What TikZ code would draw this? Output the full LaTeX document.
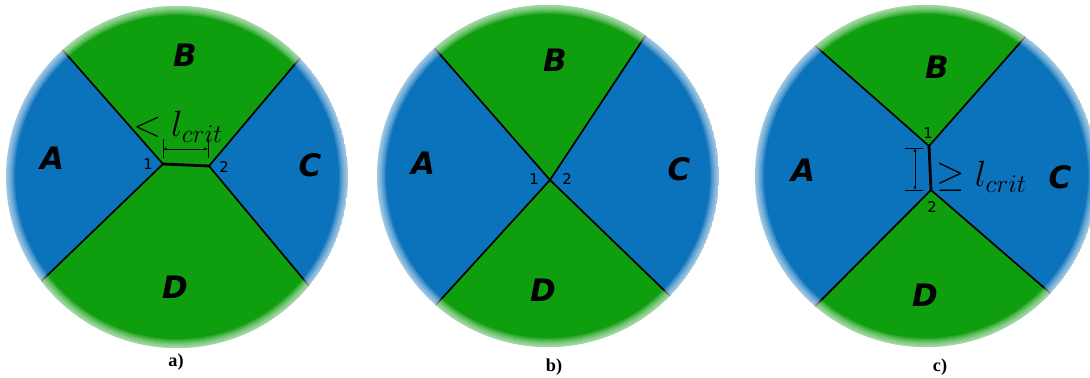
\documentclass[tikz,border=0pt]{standalone}
\usepackage{fix-cm}
\usepackage{fontspec}
\setmainfont{Liberation Serif}
\newfontfamily\grainfont{DejaVu Sans Bold Oblique}
\newfontfamily\vertexfont{DejaVu Sans}
\usetikzlibrary{arrows.meta,calc}
\definecolor{grn}{HTML}{0E9E0E}
\definecolor{blu}{HTML}{0B72BC}

\begin{document}
\begin{tikzpicture}[x=0.25mm,y=0.25mm,>={Latex[length=2.5pt,width=2.2pt]},
  grain/.style={font=\grainfont\fontsize{22}{22}\selectfont},
  vtx/.style={font=\vertexfont\fontsize{10.5}{11}\selectfont,inner sep=1pt},
  crit/.style={font=\fontsize{26}{28}\selectfont,inner sep=0pt},
  edge/.style={line width=1.2pt},
  junction/.style={line width=2pt},
  dim/.style={line width=0.5pt},
  caption/.style={font=\bfseries\fontsize{13}{13}\selectfont}]
  \useasboundingbox (0,0) rectangle (1090,377);

  % a) short junction, horizontal
  \coordinate (ao) at (177,200);
  \coordinate (a1) at (163,213);
  \coordinate (a2) at (209,211);
  \coordinate (atl) at ($(ao)+(132:171)$);
  \coordinate (atr) at ($(ao)+(44:171)$);
  \coordinate (abl) at ($(ao)+(217.5:171)$);
  \coordinate (abr) at ($(ao)+(320.5:171)$);
  \begin{scope}
    \clip (ao) circle[radius=171];
    \fill[blu] (ao) circle[radius=171];
    \fill[grn] (atl) -- (a1) -- (a2) -- (atr) -- ++(0,200)
      -- ($(atl)+(0,200)$) -- cycle;
    \fill[grn] (abl) -- (a1) -- (a2) -- (abr) -- ++(0,-200)
      -- ($(abl)+(0,-200)$) -- cycle;
  \end{scope}
  \draw[edge] (atl) -- (a1) -- (abl);
  \draw[edge] (atr) -- (a2) -- (abr);
  \draw[junction] (a1) -- (a2);
  \foreach \k in {1,...,9}
    \draw[white,opacity=0.1,line width=\k*1.42pt] (ao) circle[radius=171];

  \node[grain] (aA) at (52,219) {A};
  \node[grain] (aB) at (185,322) {B};
  \node[grain] (aC) at (310,212) {C};
  \node[grain] (aD) at (175,90) {D};
  \node[vtx] (a1l) at (148,213) {1};
  \node[vtx] (a2l) at (224,210) {2};
  \coordinate (ad1) at (163,228);
  \coordinate (ad2) at (208,228);
  \draw[dim,<->] (ad1) -- (ad2);
  \draw[dim] ($(ad1)+(0,10)$) -- ($(ad1)+(0,-9)$);
  \draw[dim] ($(ad2)+(0,10)$) -- ($(ad2)+(0,-9)$);
  \node[crit,anchor=west] (acrit) at (133,250) {$<l_{crit}$};
  \node[caption] (capa) at (176,15) {a)};

  % b) four-fold junction
  \coordinate (bo) at (548,201);
  \coordinate (b0) at (550,197);
  \coordinate (btl) at ($(bo)+(131.6:171)$);
  \coordinate (btr) at ($(bo)+(55.2:171)$);
  \coordinate (bbl) at ($(bo)+(229:171)$);
  \coordinate (bbr) at ($(bo)+(315.5:171)$);
  \begin{scope}
    \clip (bo) circle[radius=171];
    \fill[blu] (bo) circle[radius=171];
    \fill[grn] (btl) -- (b0) -- (btr) -- ++(0,200)
      -- ($(btl)+(0,200)$) -- cycle;
    \fill[grn] (bbl) -- (b0) -- (bbr) -- ++(0,-200)
      -- ($(bbl)+(0,-200)$) -- cycle;
  \end{scope}
  \draw[edge] (btl) -- (b0) -- (bbr);
  \draw[edge] (btr) -- (b0) -- (bbl);
  \foreach \k in {1,...,9}
    \draw[white,opacity=0.1,line width=\k*1.42pt] (bo) circle[radius=171];

  \node[grain] (bA) at (423,214) {A};
  \node[grain] (bB) at (555,317) {B};
  \node[grain] (bC) at (679,208) {C};
  \node[grain] (bD) at (543,87) {D};
  \node[vtx] (b1l) at (534,198) {1};
  \node[vtx] (b2l) at (567,198) {2};
  \node[caption] (capb) at (554,10) {b)};

  % c) long junction, vertical
  \coordinate (co) at (926,201);
  \coordinate (c1) at (929,231);
  \coordinate (c2) at (931,187);
  \coordinate (ctl) at ($(co)+(130.4:171)$);
  \coordinate (ctr) at ($(co)+(54.5:171)$);
  \coordinate (cbl) at ($(co)+(229.6:171)$);
  \coordinate (cbr) at ($(co)+(316.7:171)$);
  \begin{scope}
    \clip (co) circle[radius=171];
    \fill[blu] (co) circle[radius=171];
    \fill[grn] (ctl) -- (c1) -- (ctr) -- ++(0,200)
      -- ($(ctl)+(0,200)$) -- cycle;
    \fill[grn] (cbl) -- (c2) -- (cbr) -- ++(0,-200)
      -- ($(cbl)+(0,-200)$) -- cycle;
  \end{scope}
  \draw[edge] (ctl) -- (c1) -- (ctr);
  \draw[edge] (cbl) -- (c2) -- (cbr);
  \draw[junction] (c1) -- (c2);
  \foreach \k in {1,...,9}
    \draw[white,opacity=0.1,line width=\k*1.42pt] (co) circle[radius=171];

  \node[grain] (cA) at (803,207) {A};
  \node[grain] (cB) at (937,310) {B};
  \node[grain] (cC) at (1060,200) {C};
  \node[grain] (cD) at (925,82) {D};
  \node[vtx] (c1l) at (928,244) {1};
  \node[vtx] (c2l) at (932,170) {2};
  \coordinate (cd1) at (915,229);
  \coordinate (cd2) at (915,187);
  \draw[dim,<->] (cd1) -- (cd2);
  \draw[dim] ($(cd1)+(-10,0)$) -- ($(cd1)+(8,0)$);
  \draw[dim] ($(cd2)+(-10,0)$) -- ($(cd2)+(8,0)$);
  \node[crit,anchor=west] (ccrit) at (936,200) {$\geq l_{crit}$};
  \node[caption] (capc) at (940,10) {c)};
\end{tikzpicture}
\end{document}
